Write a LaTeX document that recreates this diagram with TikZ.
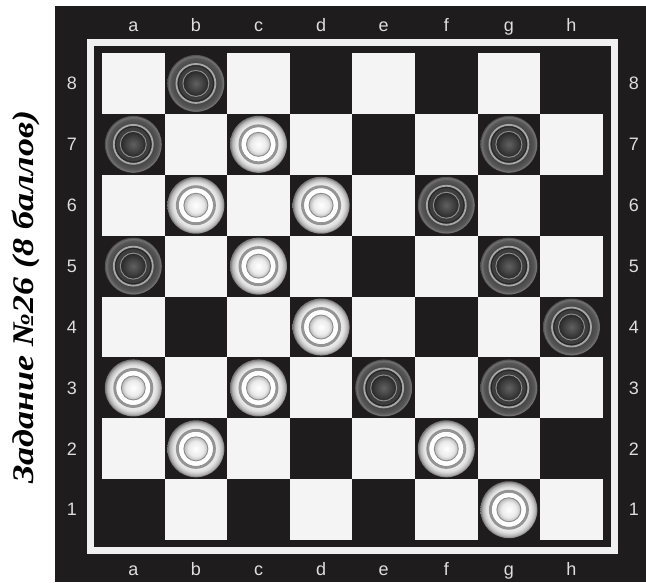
\documentclass[tikz,border=0pt]{standalone}
\usepackage{fontspec}
\setmainfont{Liberation Serif}
\setsansfont{Liberation Sans}
\definecolor{boardbg}{RGB}{30,28,29}
\definecolor{lightsq}{RGB}{244,244,244}
\definecolor{framecol}{RGB}{240,240,240}
\definecolor{labelcol}{RGB}{222,222,222}
\pgfdeclareradialshading{whiteouter}{\pgfpointorigin}{color(0bp)=(white); color(13bp)=(white); color(20bp)=(black!12); color(23bp)=(black!30); color(25bp)=(black!55); color(50bp)=(black!55)}
\pgfdeclareradialshading{whiteinner}{\pgfpointorigin}{color(0bp)=(white); color(16bp)=(black!8); color(25bp)=(black!28); color(50bp)=(black!28)}
\pgfdeclareradialshading{darkouter}{\pgfpointorigin}{color(0bp)=(black!80); color(16bp)=(black!75); color(22bp)=(black!66); color(24bp)=(black!55); color(25bp)=(black!70); color(50bp)=(black!70)}
\pgfdeclareradialshading{darkinner}{\pgfpointorigin}{color(0bp)=(black!62); color(15bp)=(black!75); color(25bp)=(black!85); color(50bp)=(black!85)}
\tikzset{
  lbl/.style={font=\sffamily\fontsize{18}{18}\selectfont, text=labelcol, inner sep=0pt},
  whitepiece/.pic={
    \shade[shading=whiteouter] (0,0) circle (28.5);
    \draw[black!42, line width=3] (0,0) circle (18.5);
    \draw[white, line width=1] (0,0) circle (16.3);
    \shade[shading=whiteinner] (0,0) circle (12);
    \draw[black!45, line width=0.9] (0,0) circle (12);
  },
  darkpiece/.pic={
    \shade[shading=darkouter] (0,0) circle (28.5);
    \draw[black!35, line width=1.8] (0,0) circle (19.5);
    \draw[black!85, line width=1] (0,0) circle (17.6);
    \shade[shading=darkinner] (0,0) circle (13);
    \draw[black!45, line width=1] (0,0) circle (13);
  }
}
\begin{document}
\begin{tikzpicture}[x=1pt,y=1pt]
\useasboundingbox (0,0) rectangle (646,582);
\fill[white] (0,0) rectangle (646,582);
\fill[boardbg] (55,0) rectangle (646,576);
% frame
\draw[framecol, line width=7] (90.5,31.5) rectangle (614.5,539.5);
% light squares
\foreach \c in {0,...,7}{
  \foreach \r in {1,...,8}{
    \pgfmathtruncatemacro{\parity}{mod(\c+\r,2)}
    \ifnum\parity=0
      \fill[lightsq] ({102+\c*62.6},{582-(53+(8-\r)*60.9)}) rectangle ++(62.6,-60.9);
    \fi
  }
}
% labels
\foreach \l [count=\i from 0] in {a,b,c,d,e,f,g,h}{
  \node[lbl, anchor=base] (top\l) at ({102+(\i+0.5)*62.6},550) {\l};
  \node[lbl, anchor=base] (bot\l) at ({102+(\i+0.5)*62.6},6.5) {\l};
}
\foreach \n in {1,...,8}{
  \node[lbl] (left\n) at (72,{582-(53+(8.5-\n)*60.9)}) {\n};
  \node[lbl] (right\n) at (634,{582-(53+(8.5-\n)*60.9)}) {\n};
}
% pieces
\foreach \c/\r in {1/8, 0/7, 6/7, 5/6, 0/5, 6/5, 7/4, 4/3, 6/3}{
  \pic at ({102+(\c+0.5)*62.6},{582-(53+(8.5-\r)*60.9)}) {darkpiece};
}
\foreach \c/\r in {2/7, 1/6, 3/6, 2/5, 3/4, 0/3, 2/3, 1/2, 5/2, 6/1}{
  \pic at ({102+(\c+0.5)*62.6},{582-(53+(8.5-\r)*60.9)}) {whitepiece};
}
% title
\node[rotate=90, inner sep=0pt] (title) at (26,285) {\scalebox{1.2}[1]{\bfseries\itshape\fontsize{30}{30}\selectfont Задание №26 (8 баллов)}};
\end{tikzpicture}
\end{document}
